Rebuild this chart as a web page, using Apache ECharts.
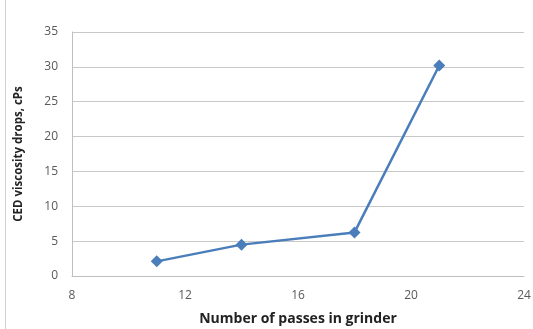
<!DOCTYPE html>
<html><head><meta charset="utf-8">
<script src="https://cdn.jsdelivr.net/npm/echarts@6/dist/echarts.min.js"></script>
<style>html,body{margin:0;padding:0;background:#fff}#c{width:533px;height:329px;position:relative}</style>
</head><body><div id="c"></div>
<script>
const passes = [11, 14, 18, 21];
const drops = [2.1, 4.5, 6.25, 30.2];
const xTicks = [8, 12, 16, 20, 24];
const yTicks = [0, 5, 10, 15, 20, 25, 30, 35];
const chart = echarts.init(document.getElementById('c'), null, {renderer:'canvas'});
chart.setOption({
  animation:false,
  graphic:[{type:'line',shape:{x1:5.5,y1:0,x2:5.5,y2:329},style:{stroke:'#d0d0d0',lineWidth:1}}],
  grid:{left:72,right:9,top:32,bottom:53,containLabel:false,outerBoundsMode:'none'},
  xAxis:{type:'value',min:xTicks[0],max:xTicks[xTicks.length-1],interval:4,
    name:'Number of passes in grinder',nameLocation:'middle',nameGap:36,
    nameTextStyle:{fontFamily:'Open Sans',fontWeight:'bold',fontSize:14,color:'#222'},
    axisLine:{lineStyle:{color:'#bfbfbf'}},axisTick:{show:false},
    axisLabel:{fontFamily:'Open Sans',fontSize:12,color:'#595959',margin:14},
    splitLine:{show:false}},
  yAxis:{type:'value',min:yTicks[0],max:yTicks[yTicks.length-1],interval:5,
    name:'CED viscosity drops, cPs',nameLocation:'middle',nameGap:47,
    nameTextStyle:{fontFamily:'Open Sans',fontWeight:'bold',fontSize:11.5,color:'#222'},
    axisLine:{show:true,lineStyle:{color:'#bfbfbf'}},axisTick:{show:false},
    axisLabel:{fontFamily:'Open Sans',fontSize:12,color:'#595959',margin:14},
    splitLine:{lineStyle:{color:'#c8c8c8'}}},
  series:[{type:'line',data:passes.map((x,i)=>[x,drops[i]]),
    symbol:'diamond',symbolSize:12,
    lineStyle:{color:'#4a7ebb',width:2.5},itemStyle:{color:'#4a7ebb'}}]
});
</script></body></html>
